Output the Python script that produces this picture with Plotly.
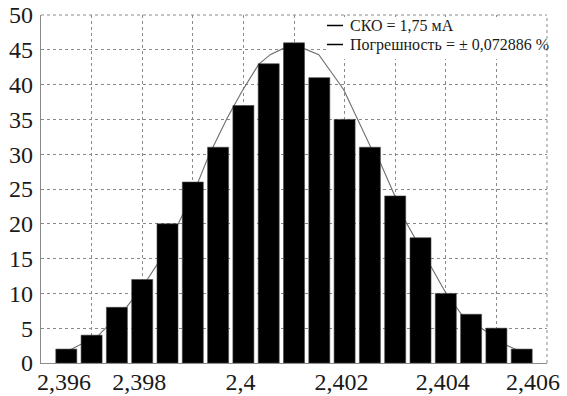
import plotly.graph_objects as go

# ---- data ----
bin_centers = [2.3965, 2.3970, 2.3975, 2.3980, 2.3985, 2.3990, 2.3995, 2.4000,
               2.4005, 2.4010, 2.4015, 2.4020, 2.4025, 2.4030, 2.4035, 2.4040,
               2.4045, 2.4050, 2.4055]
counts = [2, 4, 8, 12, 20, 26, 31, 37, 43, 46, 41, 35, 31, 24, 18, 10, 7, 5, 2]

curve_x = [2.3965, 2.39658, 2.39714, 2.3977, 2.39811, 2.39829, 2.39872, 2.39911,
           2.39931, 2.39968, 2.39997, 2.4003, 2.40053, 2.40079, 2.40119, 2.40149,
           2.40198, 2.40251, 2.40271, 2.40297, 2.40317, 2.40369, 2.40399, 2.40432,
           2.40481, 2.4052, 2.4054, 2.4055]
curve_y = [1.7, 1.9, 4.0, 8.1, 12.1, 14.1, 20.1, 26.1,
           29.7, 35.2, 39.0, 42.9, 44.3, 45.2, 45.2, 44.3,
           39.3, 31.1, 28.7, 24.4, 20.8, 14.1, 10.2, 6.9,
           4.5, 2.55, 1.9, 1.8]

grid_vals = [2.396, 2.397, 2.398, 2.399, 2.400, 2.401, 2.402, 2.403, 2.404, 2.405, 2.406]
grid_text = ["", "", "2,398", "", "2,4", "", "2,402", "", "2,404", "", ""]
end_labels = [(2.396, "2,396"), (2.406, "2,406")]
y_ticks = [0, 5, 10, 15, 20, 25, 30, 35, 40, 45, 50]

legend_lines = ["СКО = 1,75 мА", "Погрешность = ± 0,072886 %"]

FONT = "Liberation Serif"

fig = go.Figure()

fig.add_trace(go.Scatter(x=curve_x, y=curve_y, mode="lines",
                         line=dict(color="#6e6e6e", width=1.1),
                         xaxis="x", yaxis="y", showlegend=False, hoverinfo="skip"))
fig.add_trace(go.Bar(x=bin_centers, y=counts,
                     marker=dict(color="black", line=dict(color="#444", width=0.6)),
                     xaxis="x2", yaxis="y2", showlegend=False))

axis_common = dict(showline=True, linecolor="#8a8a8a", linewidth=1.2,
                   showgrid=True, gridcolor="#8a8a8a", griddash="dot", gridwidth=1,
                   zeroline=False, ticks="", automargin=False,
                   tickfont=dict(family=FONT, size=24, color="#1a1a1a"))

fig.update_layout(
    width=567, height=396, autosize=False,
    margin=dict(l=41, r=20, t=15, b=33, pad=0, autoexpand=False),
    showlegend=False,
    paper_bgcolor="white", plot_bgcolor="white",
    bargap=0.17,
    xaxis=dict(range=[2.396, 2.406], tickmode="array", tickvals=grid_vals,
               ticktext=grid_text, ticklabelshift=-3, ticklabelstandoff=-3,
               **axis_common),
    yaxis=dict(range=[0, 50], tickmode="array", tickvals=y_ticks,
               ticklabelstandoff=2, **axis_common),
    xaxis2=dict(overlaying="x", matches="x", visible=False, automargin=False),
    yaxis2=dict(overlaying="y", matches="y", visible=False, automargin=False),
)

# dotted top/right border
fig.add_shape(type="line", xref="paper", yref="paper", x0=0, x1=1, y0=1, y1=1,
              line=dict(color="#8a8a8a", width=1, dash="dot"))
fig.add_shape(type="line", xref="paper", yref="paper", x0=1, x1=1, y0=0, y1=1,
              line=dict(color="#8a8a8a", width=1, dash="dot"))

# end tick labels (shifted inward as in the reference)
shifts = [23, -14]
for (v, t), s in zip(end_labels, shifts):
    fig.add_annotation(x=v, y=0, xref="x", yref="y", text=t, showarrow=False,
                       yanchor="top", yshift=-4, xshift=s,
                       font=dict(family=FONT, size=24, color="#1a1a1a"))

# legend box
fig.add_shape(type="rect", xref="paper", yref="paper",
              x0=(327 - 41) / 506, x1=(546 - 41) / 506,
              y0=(363 - 59) / 348, y1=(363 - 17) / 348,
              fillcolor="white", line=dict(width=0), layer="above")
for i, txt in enumerate(legend_lines):
    ypix = 25.5 + i * 19
    yp = (363 - ypix) / 348
    fig.add_shape(type="line", xref="paper", yref="paper",
                  x0=(327 - 41) / 506, x1=(343 - 41) / 506, y0=yp, y1=yp,
                  line=dict(color="black", width=1.5), layer="above")
    fig.add_annotation(x=(348 - 41) / 506, y=yp, xref="paper", yref="paper",
                       text=txt, showarrow=False, xanchor="left", yanchor="middle",
                       font=dict(family=FONT, size=16, color="#1a1a1a"))

fig.write_html("out.html", config={"displayModeBar": False},
               post_script="document.body.style.margin='0px';document.body.style.overflow='hidden';")
